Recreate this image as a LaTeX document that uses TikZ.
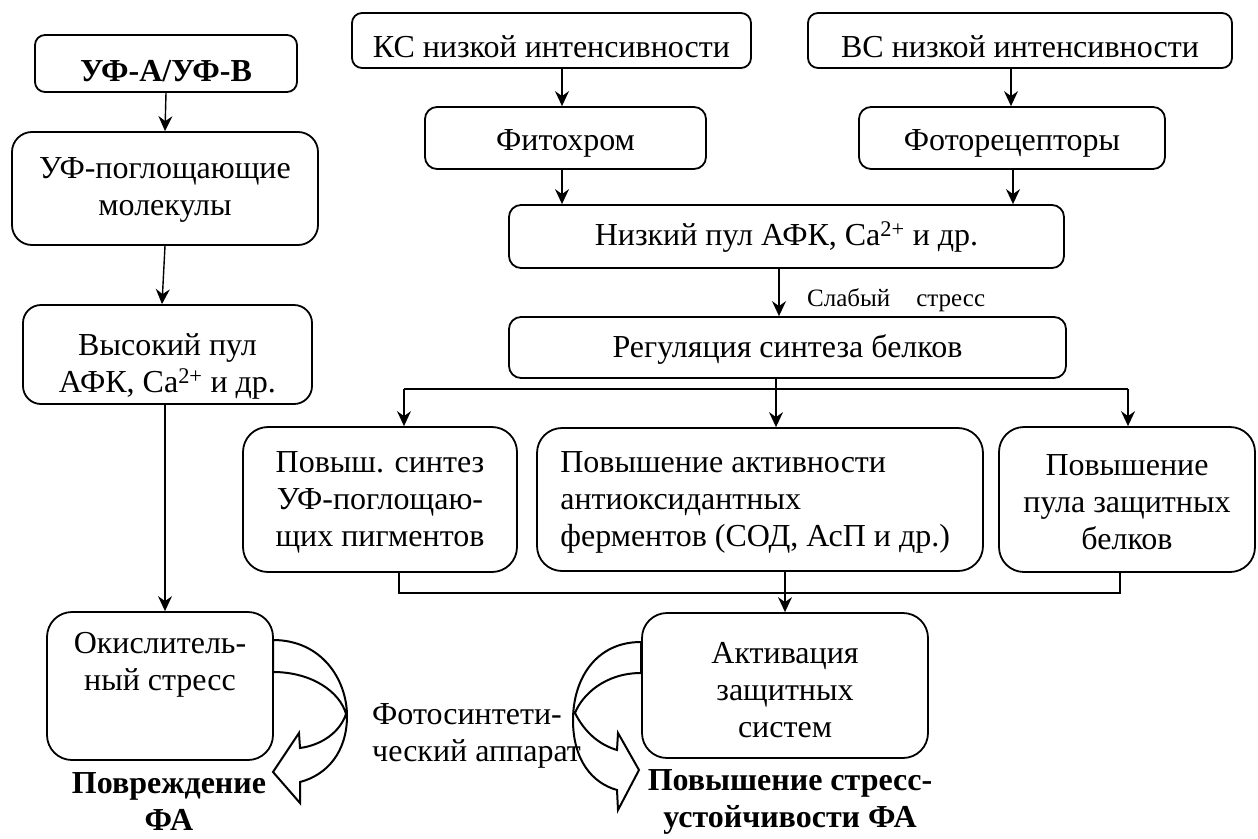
\documentclass[tikz,border=0pt]{standalone}
\usepackage{fontspec}
\setmainfont{Liberation Serif}
\usetikzlibrary{arrows.meta,calc}
\tikzset{
  box/.style={draw, line width=1.8pt, rounded corners=#1, inner sep=0pt},
  box/.default=12pt,
  lbl/.style={font=\fontsize{32}{37}\selectfont, align=center, inner sep=0pt},
  blbl/.style={font=\fontsize{32}{37}\selectfont\bfseries, align=center, inner sep=0pt},
  arr/.style={line width=1.4pt, -{Stealth[length=15pt,width=14pt,inset=5pt]}},
  ln/.style={line width=1.4pt},
  blk/.style={line width=2pt, line join=miter},
}
\begin{document}
\begin{tikzpicture}[x=1pt,y=-1pt]
\useasboundingbox (0,0) rectangle (1258,838);

% curved block arrows
\draw[blk] (273,640) .. controls (322,640) and (347,680) .. (347,716)
  .. controls (347,752) and (327,775) .. (300,782) -- (300,803) -- (273,772)
  -- (299,733) -- (300,748) .. controls (322,745) and (340,732) .. (346,714)
  .. controls (340,692) and (312,672) .. (273,672) -- cycle;
\draw[blk] (641,642) .. controls (595,642) and (573,680) .. (573,720)
  .. controls (573,760) and (592,783) .. (617,790) -- (618,810) -- (639,770)
  -- (618,733) -- (617,750) .. controls (600,745) and (585,733) .. (575,713)
  .. controls (582,695) and (605,673) .. (641,673) -- cycle;

% left column
\node[box=10pt, minimum width=262pt, minimum height=57pt,
  label={[blbl,yshift=-8pt]center:{УФ-А/УФ-В}}] (uv) at (166,63.5) {};
\node[box=20pt, minimum width=306pt, minimum height=113pt,
  label={[lbl,yshift=-1pt]center:{УФ-поглощающие\\молекулы}}] (mol) at (165,188.5) {};
\node[box=18pt, minimum width=289pt, minimum height=99pt,
  label={[lbl,yshift=-12pt]center:{Высокий пул\\АФК, Ca\textsuperscript{2+} и др.}}] (high) at (167.5,354.5) {};
\node[box=25pt, minimum width=226pt, minimum height=148pt,
  label={[lbl,yshift=21pt]center:{Окислитель-\\ный стресс}}] (ox) at (160,686) {};

% top right
\node[box=10pt, minimum width=399pt, minimum height=55pt,
  label={[lbl,yshift=-6pt]center:{КС низкой интенсивности}}] (ks) at (551.5,40.5) {};
\node[box=10pt, minimum width=424pt, minimum height=55pt,
  label={[lbl,yshift=-6pt]center:{ВС низкой интенсивности}}] (vs) at (1020,40.5) {};
\node[box=12pt, minimum width=281pt, minimum height=62pt,
  label={[lbl,yshift=-5pt]center:{Фитохром}}] (phy) at (565.5,138) {};
\node[box=12pt, minimum width=306pt, minimum height=62pt,
  label={[lbl,yshift=-5pt]center:{Фоторецепторы}}] (phr) at (1012,138) {};
\node[box=12pt, minimum width=555pt, minimum height=63pt,
  label={[lbl,yshift=-1pt]center:{Низкий пул АФК, Ca\textsuperscript{2+} и др.}}] (low) at (786.5,236.5) {};
\node[box=12pt, minimum width=557pt, minimum height=61pt,
  label={[lbl,yshift=-2pt]center:{Регуляция синтеза белков}}] (reg) at (787.5,347.5) {};

% three effect boxes
\node[box=25pt, minimum width=274pt, minimum height=145pt,
  label={[lbl,yshift=-2.5pt]center:{Повыш. синтез\\УФ-поглощаю-\\щих пигментов}}] (uvs) at (380,499.5) {};
\node[box=25pt, minimum width=446pt, minimum height=143pt,
  label={[lbl,align=left,anchor=west,xshift=24pt,yshift=-2.5pt]west:{Повышение активности\\антиоксидантных\\ферментов (СОД, АсП и др.)}}] (anti) at (760,499.5) {};
\node[box=25pt, minimum width=256pt, minimum height=145pt,
  label={[lbl,yshift=-2.5pt]center:{Повышение\\пула защитных\\белков}}] (pool) at (1127,499.5) {};
\node[box=25pt, minimum width=286pt, minimum height=145pt,
  label={[lbl,yshift=-4.5pt]center:{Активация\\защитных\\систем}}] (act) at (785,685.5) {};

% free texts
\node[blbl] (dmg) at (169,802) {Повреждение\\ФА};
\node[blbl] (res) at (790,802) {Повышение стресс-\\устойчивости ФА};
\node[lbl, align=left, anchor=west] (fa) at (372,736) {Фотосинтети-\\ческий аппарат};
\node[font=\fontsize{25}{30}\selectfont, anchor=west, inner sep=0pt] (weak) at (807,300) {Слабый\hspace{26pt}стресс};

% connectors, left column
\draw[arr] (uv.south) -- (mol.north);
\draw[arr] (mol.south) -- ($(high.north)+(-5.5,0)$);
\draw[arr] ($(high.south)+(-2.5,0)$) -- ($(ox.north)+(5,0)$);

% connectors, right part
\draw[arr] ($(ks.south)+(10.5,0)$) -- ($(phy.north)+(-3.5,0)$);
\draw[arr] ($(vs.south)+(-9,0)$) -- ($(phr.north)+(-1,0)$);
\coordinate (p1) at ($(phy.south)+(-3.5,0)$);
\coordinate (p2) at ($(phr.south)+(1,0)$);
\draw[arr] (p1) -- (p1 |- low.north);
\draw[arr] (p2) -- (p2 |- low.north);
\coordinate (p3) at ($(low.south)+(-7.5,0)$);
\draw[arr] (p3) -- (p3 |- reg.north);
\coordinate (r1) at ($(reg.south)+(-11.5,0)$);
\draw[arr] (r1) -- (r1 |- anti.north);
\coordinate (bl) at (404,389);
\coordinate (br) at (1128,389);
\draw[ln] (bl) -- (br);
\draw[arr] (bl) -- (bl |- uvs.north);
\draw[arr] (br) -- (br |- pool.north);
\coordinate (cl) at (399,593);
\coordinate (cr) at (1120,593);
\draw[ln] (cl |- uvs.south) -- (cl) -- (cr) -- (cr |- pool.south);
\draw[arr] (act.north |- anti.south) -- (act.north);
\end{tikzpicture}
\end{document}
